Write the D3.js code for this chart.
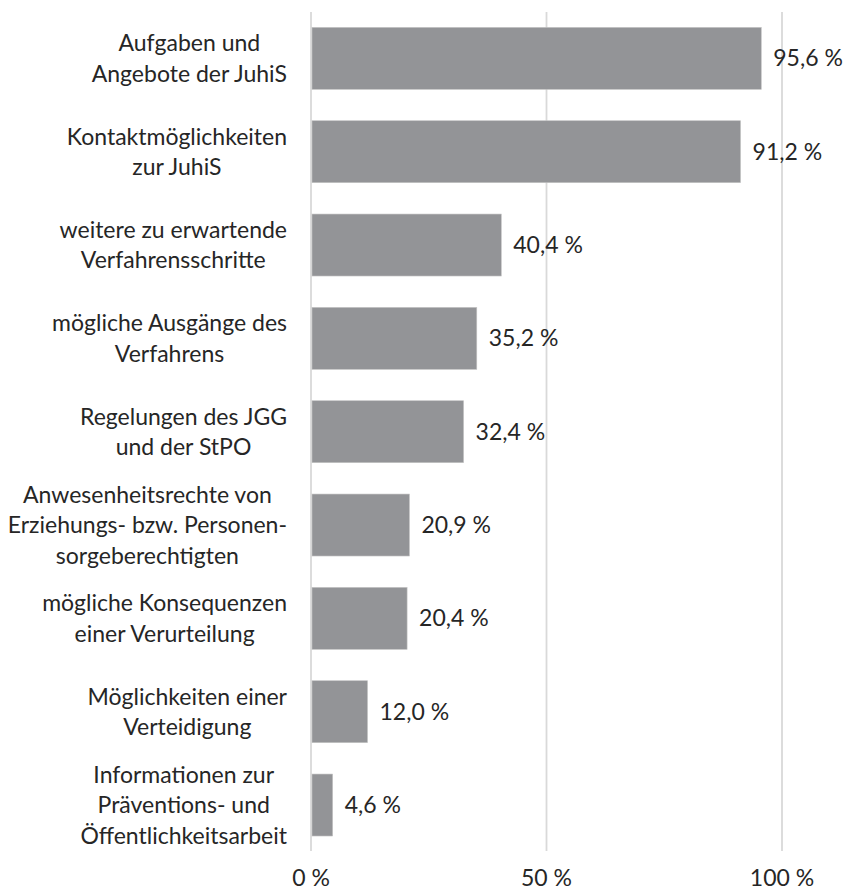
<!DOCTYPE html>
<html>
<head>
<meta charset="utf-8">
<script src="https://cdn.jsdelivr.net/npm/d3@7"></script>
<style>
  body { margin: 0; background: #fff; }
  text { font-family: Lato, "Open Sans", sans-serif; fill: #262626; }
</style>
</head>
<body>
<div id="chart"></div>
<script>
// category labels (line breaks as in the original), top to bottom
var labels = [
    ["Aufgaben und", "Angebote der JuhiS"],
    ["Kontaktmöglichkeiten", "zur JuhiS"],
    ["weitere zu erwartende", "Verfahrensschritte"],
    ["mögliche Ausgänge des", "Verfahrens"],
    ["Regelungen des JGG", "und der StPO"],
    ["Anwesenheitsrechte von", "Erziehungs- bzw. Personen-", "sorgeberechtigten"],
    ["mögliche Konsequenzen", "einer Verurteilung"],
    ["Möglichkeiten einer", "Verteidigung"],
    ["Informationen zur", "Präventions- und", "Öffentlichkeitsarbeit"]
];
var values = [95.6, 91.2, 40.4, 35.2, 32.4, 20.9, 20.4, 12.0, 4.6];
var ticks = [0, 50, 100];

var width = 845, height = 893;
var fontSize = 23, lineH = 30.5;

var de = d3.formatLocale({decimal: ",", thousands: ".", grouping: [3], currency: ["", " €"]});
var fmt = de.format(".1f");

var svg = d3.select("#chart").append("svg")
    .attr("width", width)
    .attr("height", height);

var x = d3.scaleLinear().domain([0, 100]).range([311, 782]);
var y = d3.scaleBand()
    .domain(d3.range(values.length))
    .range([11.7, 851.7])
    .paddingInner(0.336)
    .paddingOuter(0.168);

// gridlines
svg.append("g").selectAll("line")
    .data(ticks)
    .enter().append("line")
    .attr("x1", d => x(d)).attr("x2", d => x(d))
    .attr("y1", 12).attr("y2", 851)
    .attr("stroke", "#d9d9d9")
    .attr("stroke-width", 1.8);

// bars
svg.append("g").selectAll("rect")
    .data(values)
    .enter().append("rect")
    .attr("x", x(0) + 1)
    .attr("y", (d, i) => y(i))
    .attr("width", d => x(d) - x(0) - 1)
    .attr("height", y.bandwidth())
    .attr("fill", "#939497")
    .attr("stroke", "#c4c4c4")
    .attr("stroke-width", 0.6);

// value labels
svg.append("g").selectAll("text")
    .data(values)
    .enter().append("text")
    .attr("x", d => x(d) + 12)
    .attr("y", (d, i) => y(i) + y.bandwidth() / 2)
    .attr("dy", "0.35em")
    .style("font-size", fontSize + "px")
    .text(d => fmt(d) + " %");

// category labels: each block centred on itself, right edge at 287
var catG = svg.append("g");
labels.forEach(function(lines, i) {
    var cy = y(i) + y.bandwidth() / 2;
    var t = catG.append("text")
        .attr("text-anchor", "middle")
        .style("font-size", fontSize + "px");
    t.selectAll("tspan")
        .data(lines)
        .enter().append("tspan")
        .attr("x", 0)
        .attr("y", (d, j) => cy + (j - (lines.length - 1) / 2) * lineH)
        .attr("dy", "0.35em")
        .text(d => d);
    var maxW = d3.max(t.selectAll("tspan").nodes(), n => n.getComputedTextLength());
    t.selectAll("tspan").attr("x", 287 - maxW / 2);
});

// x axis tick labels
svg.append("g").selectAll("text")
    .data(ticks)
    .enter().append("text")
    .attr("x", d => x(d))
    .attr("y", 886)
    .attr("text-anchor", "middle")
    .style("font-size", fontSize + "px")
    .text(d => d + " %");
</script>
</body>
</html>
